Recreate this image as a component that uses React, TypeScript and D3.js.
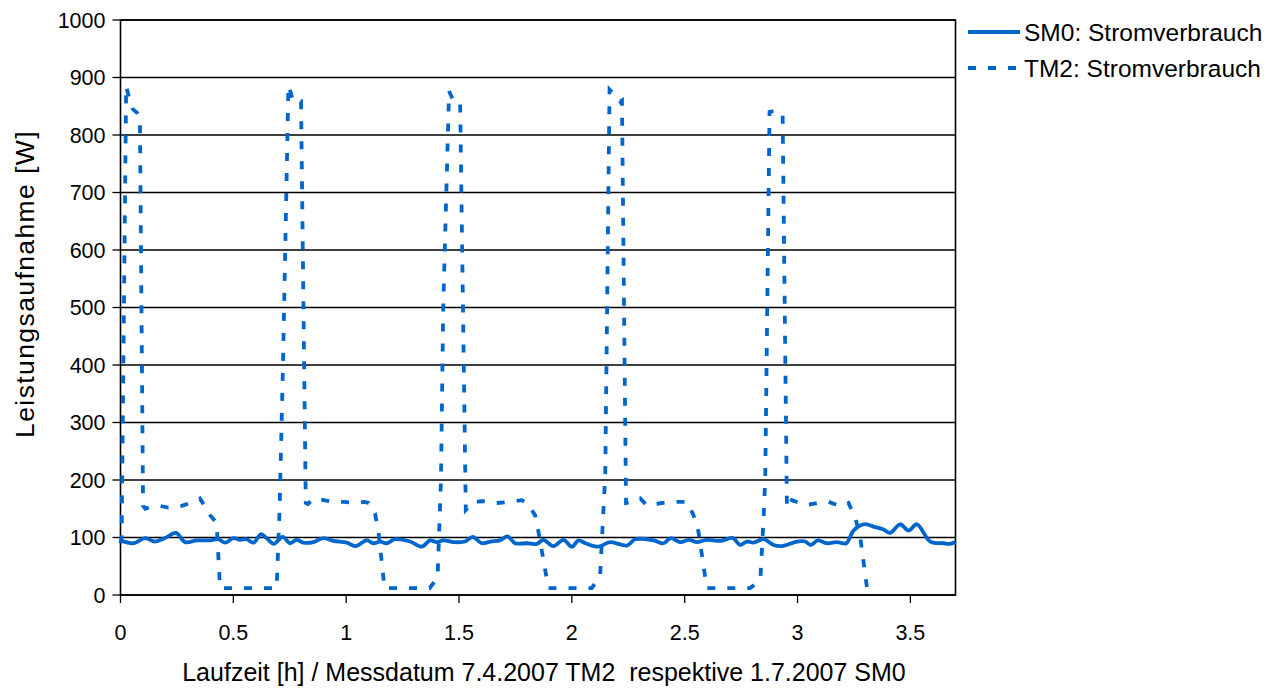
import React from "react";
import * as d3 from "d3";

// TM2: Stromverbrauch (hours, watts)
const tm2Hours = [
  0, 0.005, 0.025, 0.04, 0.055, 0.075, 0.086, 0.1, 0.11, 0.131, 0.175, 0.212, 0.271, 0.308, 0.352, 0.397, 0.426, 0.441, 0.5, 0.6, 0.692, 0.705, 0.72, 0.744,
  0.765, 0.78, 0.8, 0.821, 0.83, 0.855, 0.9, 0.943, 0.99, 1.04, 1.08, 1.1, 1.128, 1.143, 1.17, 1.25, 1.37, 1.405, 1.42, 1.43, 1.456,
  1.475, 1.497, 1.505, 1.53, 1.564, 1.608, 1.667, 1.727, 1.778, 1.8, 1.837, 1.852, 1.896, 1.95, 2.088, 2.125, 2.148, 2.167,
  2.19, 2.214, 2.222, 2.24, 2.273, 2.303, 2.332, 2.399, 2.45, 2.51, 2.539, 2.561, 2.598, 2.7, 2.79, 2.835, 2.85, 2.857, 2.876,
  2.913, 2.934, 2.953, 2.975, 3.034, 3.086, 3.138, 3.19, 3.226, 3.256, 3.278, 3.308,
];
const tm2Watts = [
  90, 100, 885, 862, 845, 838, 830, 155, 150, 153, 155, 152, 155, 160, 168, 139, 125, 12, 12, 12, 12, 150, 400, 886,
  860, 855, 858, 160, 158, 168, 165, 162, 162, 160, 162, 160, 142, 110, 12, 12, 12, 30, 200, 500, 876,
  860, 853, 855, 148, 162, 163, 160, 162, 165, 160, 139, 110, 12, 12, 12, 32, 209, 879,
  870, 858, 860, 160, 162, 168, 156, 160, 162, 162, 139, 110, 12, 12, 12, 26, 136, 206, 840,
  843, 835, 151, 165, 156, 160, 162, 154, 160, 134, 100, 12,
];

// SM0: Stromverbrauch (hours, watts)
const sm0Hours = [
  0, 0.057, 0.109, 0.153, 0.197, 0.246, 0.286, 0.338, 0.397, 0.434, 0.463, 0.5, 0.53, 0.559, 0.589, 0.623, 0.647, 0.68, 0.719, 0.751, 0.781, 0.81, 0.855, 0.899, 0.943,
  1.003, 1.04, 1.091, 1.121, 1.15, 1.18, 1.217, 1.283, 1.335, 1.372, 1.401, 1.431, 1.475, 1.527, 1.561, 1.601, 1.64, 1.682, 1.715, 1.749, 1.8, 1.845, 1.874, 1.918, 1.963,
  2.0, 2.029, 2.06, 2.118, 2.17, 2.244, 2.281, 2.362, 2.406, 2.439, 2.48, 2.52, 2.554, 2.598, 2.657, 2.714, 2.746, 2.775, 2.805, 2.849, 2.894, 2.931, 2.997,
  3.034, 3.059, 3.089, 3.13, 3.175, 3.216, 3.248, 3.293, 3.337, 3.381, 3.41, 3.455, 3.492, 3.529, 3.588, 3.647, 3.677, 3.7,
];
const sm0Watts = [
  95, 90, 99, 93, 99, 108, 92, 95, 95, 97, 91, 99, 96, 97, 91, 106, 99, 89, 101, 90, 96, 91, 92, 99, 94,
  91, 85, 95, 90, 93, 90, 97, 93, 84, 95, 92, 95, 92, 93, 101, 90, 93, 95, 102, 90, 90, 89, 96, 85, 96,
  84, 95, 90, 84, 92, 86, 97, 95, 90, 99, 92, 96, 92, 96, 94, 99, 87, 93, 91, 97, 87, 85, 93,
  93, 87, 95, 90, 92, 90, 112, 123, 119, 114, 108, 123, 112, 123, 93, 90, 89, 92,
];

const yTicks = [0, 100, 200, 300, 400, 500, 600, 700, 800, 900, 1000];
const xTicks = [0, 0.5, 1, 1.5, 2, 2.5, 3, 3.5];
const seriesNames = ["SM0: Stromverbrauch", "TM2: Stromverbrauch"];
const xTitle = "Laufzeit [h] / Messdatum 7.4.2007 TM2  respektive 1.7.2007 SM0";
const yTitle = "Leistungsaufnahme [W]";

const W = 1276;
const H = 690;
const plot = { left: 120.5, right: 955.5, top: 20, bottom: 595 };
const BLUE = "#0066cc";
const FONT = "'Liberation Sans', Arial, sans-serif";

export default function App() {
  const x = d3.scaleLinear().domain([0, 3.7]).range([plot.left, plot.right]);
  const y = d3.scaleLinear().domain([0, 1000]).range([plot.bottom, plot.top]);

  const sm0 = sm0Hours.map((h, i) => [h, sm0Watts[i]] as [number, number]);
  const tm2 = tm2Hours.map((h, i) => [h, tm2Watts[i]] as [number, number]);

  const smooth = d3
    .line<[number, number]>()
    .x((d) => x(d[0]))
    .y((d) => y(d[1]))
    .curve(d3.curveCatmullRom.alpha(0.5));
  const straight = d3
    .line<[number, number]>()
    .x((d) => x(d[0]))
    .y((d) => y(d[1]));

  return (
    <svg
      width={W}
      height={H}
      style={{ position: "absolute", left: 0, top: 0, background: "#fff" }}
      fontFamily={FONT}
    >
      {/* gridlines */}
      {yTicks.map((t) => (
        <line
          key={"g" + t}
          x1={plot.left}
          x2={plot.right}
          y1={y(t)}
          y2={y(t)}
          stroke="#000"
          strokeWidth={1.3}
        />
      ))}
      {/* plot border */}
      <rect
        x={plot.left}
        y={plot.top}
        width={plot.right - plot.left}
        height={plot.bottom - plot.top}
        fill="none"
        stroke="#000"
        strokeWidth={1.6}
      />
      {/* y ticks */}
      {yTicks.map((t) => (
        <g key={"yt" + t}>
          <line x1={plot.left - 8} x2={plot.left} y1={y(t)} y2={y(t)} stroke="#000" strokeWidth={1.3} />
          <text x={plot.left - 15} y={y(t)} dy="0.37em" textAnchor="end" fontSize={21.5} fill="#000">
            {t}
          </text>
        </g>
      ))}
      {/* x ticks */}
      {xTicks.map((t) => (
        <g key={"xt" + t}>
          <line x1={x(t)} x2={x(t)} y1={plot.bottom} y2={plot.bottom + 8} stroke="#000" strokeWidth={1.3} />
          <text x={x(t)} y={plot.bottom + 45} textAnchor="middle" fontSize={21.5} fill="#000">
            {t}
          </text>
        </g>
      ))}
      {/* series */}
      <path d={straight(tm2) || ""} fill="none" stroke={BLUE} strokeWidth={3.8} strokeDasharray="8,12" />
      <path d={smooth(sm0) || ""} fill="none" stroke={BLUE} strokeWidth={3.8} strokeLinejoin="round" />
      {/* axis titles */}
      <text
        x={(178 + 910) / 2}
        y={681}
        textAnchor="middle"
        fontSize={25}
        fill="#000"
        style={{ whiteSpace: "pre" }}
        xmlSpace="preserve"
      >
        {xTitle}
      </text>
      <text
        transform={`translate(34, 284) rotate(-90)`}
        textAnchor="middle"
        fontSize={26.5}
        letterSpacing={1.4}
        fill="#000"
      >
        {yTitle}
      </text>
      {/* legend */}
      <line x1={968} x2={1020} y1={32} y2={32} stroke={BLUE} strokeWidth={3.8} />
      <text x={1024} y={41} fontSize={24.5} fill="#000">
        {seriesNames[0]}
      </text>
      <line x1={968} x2={1020} y1={68} y2={68} stroke={BLUE} strokeWidth={3.8} strokeDasharray="8,12" />
      <text x={1024} y={77} fontSize={24.5} fill="#000">
        {seriesNames[1]}
      </text>
    </svg>
  );
}
